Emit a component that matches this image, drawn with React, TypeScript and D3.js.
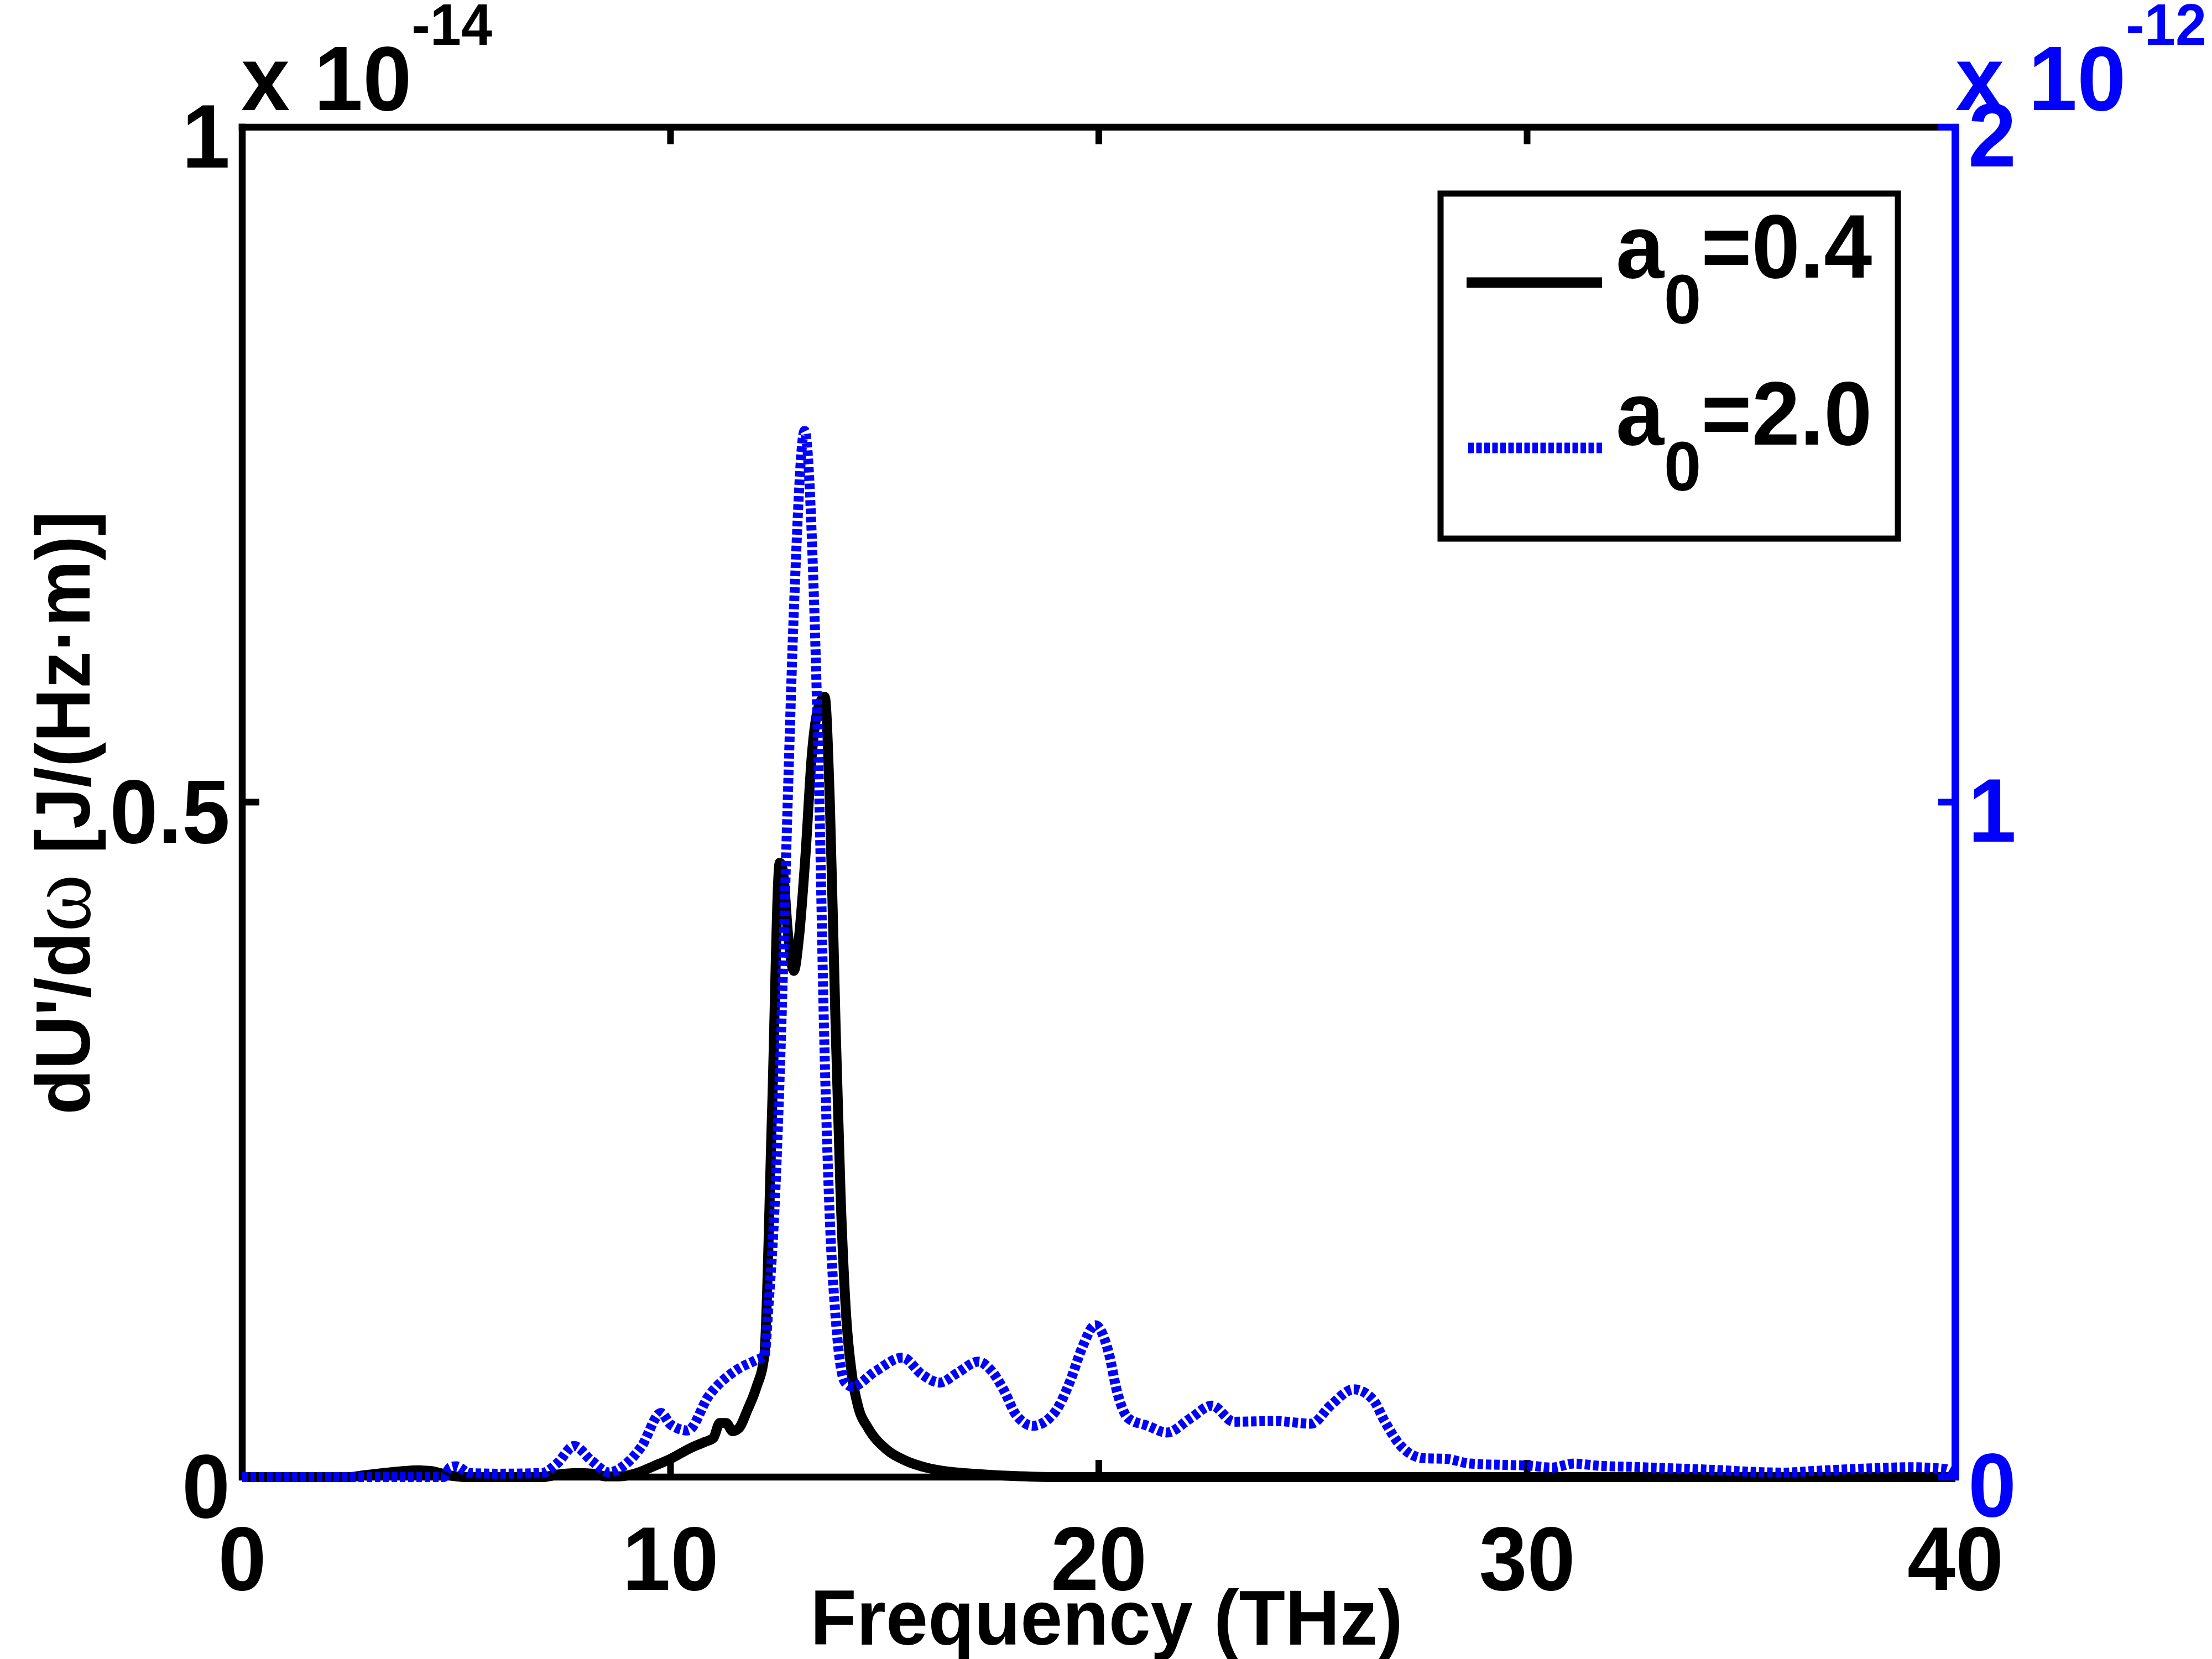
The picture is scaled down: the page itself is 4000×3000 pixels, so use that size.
import React from "react";
import * as d3 from "d3";

// a0 = 0.4 (left axis, x 1e-14)
const freqBlack = [0, 2.5, 2.8, 3.3, 3.8, 4.1, 4.4, 4.8, 5.2, 7.0, 7.4, 7.8, 8.2, 8.5, 8.8, 9.26, 9.6, 10.0, 10.5, 10.8, 11.0, 11.15, 11.3, 11.45, 11.59, 11.8, 12.0, 12.19, 12.37, 12.55, 12.62, 12.75, 12.88, 13.0, 13.15, 13.3, 13.45, 13.6, 13.72, 13.85, 13.97, 14.1, 14.24, 14.4, 14.6, 15.06, 15.5, 15.97, 16.5, 17.3, 18.0, 19.0, 40];
const valBlack = [0, 0, 0.0012, 0.003, 0.0045, 0.005, 0.0045, 0.0015, 0, 0, 0.002, 0.003, 0.0025, 0.0005, 0.0005, 0.0035, 0.008, 0.0135, 0.022, 0.026, 0.029, 0.04, 0.04, 0.034, 0.036, 0.05, 0.066, 0.09, 0.27, 0.455, 0.45, 0.4, 0.375, 0.4, 0.46, 0.535, 0.57, 0.578, 0.5, 0.34, 0.21, 0.12, 0.075, 0.05, 0.037, 0.02, 0.012, 0.007, 0.004, 0.002, 0.0008, 0, 0];

// a0 = 2.0 (right axis, x 1e-12)
const freqBlue = [0, 4.7, 4.85, 5.0, 5.3, 6.0, 7.0, 7.35, 7.75, 8.16, 8.56, 8.97, 9.32, 9.78, 10.0, 10.4, 10.9, 11.5, 11.99, 12.19, 12.29, 12.44, 12.59, 12.73, 12.89, 13.13, 13.35, 13.48, 13.58, 13.7, 13.87, 14.07, 14.24, 14.79, 15.42, 15.87, 16.29, 16.69, 17.19, 17.5, 17.79, 18.06, 18.46, 18.96, 19.33, 19.6, 19.92, 20.24, 20.42, 20.69, 21.14, 21.59, 22.14, 22.64, 23.15, 24.14, 24.96, 25.41, 25.95, 26.4, 26.68, 27.04, 27.58, 28.1, 28.67, 29.44, 30.05, 30.57, 31.1, 31.62, 32.49, 34.22, 35.95, 36.82, 37.67, 38.98, 39.76, 40];
const valBlue = [0, 0, 0.014, 0.016, 0.006, 0.005, 0.006, 0.02, 0.046, 0.024, 0.007, 0.02, 0.045, 0.095, 0.078, 0.069, 0.121, 0.157, 0.173, 0.179, 0.256, 0.414, 0.674, 0.988, 1.3, 1.55, 1.3, 0.988, 0.674, 0.414, 0.225, 0.141, 0.134, 0.157, 0.177, 0.152, 0.14, 0.154, 0.171, 0.157, 0.128, 0.093, 0.076, 0.095, 0.142, 0.19, 0.225, 0.182, 0.128, 0.087, 0.076, 0.066, 0.087, 0.106, 0.082, 0.083, 0.079, 0.106, 0.13, 0.115, 0.082, 0.047, 0.028, 0.027, 0.02, 0.018, 0.017, 0.014, 0.02, 0.017, 0.015, 0.011, 0.0066, 0.0095, 0.012, 0.0145, 0.012, 0.003];

const xTicks = [0, 10, 20, 30, 40];
const xTickLabels = ["0", "10", "20", "30", "40"];
const leftTicks = [0, 0.5, 1];
const leftTickLabels = ["0", "0.5", "1"];
const rightTicks = [0, 1, 2];
const rightTickLabels = ["0", "1", "2"];
const legendLabels = ["0.4", "2.0"];

const W = 4000, H = 3000;
const L = 438, R = 3536, TOP = 230, BOT = 2671;
const FONT = "'Liberation Sans', Arial, Helvetica, sans-serif";
const BLUE = "#0000FF";

function T(props: any) {
  const { x, y, fs, sx = 0.96, anchor = "start", fill = "#000", rotate, children } = props;
  const tr = `translate(${x},${y})${rotate !== undefined ? ` rotate(${rotate})` : ""} scale(${sx},1)`;
  return (
    <text transform={tr} fontSize={fs} textAnchor={anchor} fill={fill} fontWeight="bold" fontFamily={FONT}>
      {children}
    </text>
  );
}

export default function App() {
  const x = d3.scaleLinear().domain([0, 40]).range([L, R]);
  const yL = d3.scaleLinear().domain([0, 1]).range([BOT, TOP]);
  const yR = d3.scaleLinear().domain([0, 2]).range([BOT, TOP]);

  const blackPts: [number, number][] = freqBlack.map((f, i) => [f, valBlack[i]]);
  const bluePts: [number, number][] = freqBlue.map((f, i) => [f, valBlue[i]]);
  const lineL = d3.line<[number, number]>().x(d => x(d[0])).y(d => yL(d[1])).curve(d3.curveMonotoneX);
  const lineR = d3.line<[number, number]>().x(d => x(d[0])).y(d => yR(d[1])).curve(d3.curveMonotoneX);

  const tickLen = 31;
  const axW = 12.5;

  return (
    <svg width={W} height={H} viewBox={`0 0 ${W} ${H}`} style={{ position: "absolute", left: 0, top: 0, background: "#fff" }}>
      <rect x={0} y={0} width={W} height={H} fill="#fff" />
      {/* axes box (black) */}
      <path d={`M${L},${TOP}L${R},${TOP}`} stroke="#000" strokeWidth={axW} strokeLinecap="square" fill="none" />
      <path d={`M${L},${TOP}L${L},${BOT}L${R},${BOT}`} stroke="#000" strokeWidth={axW} strokeLinecap="square" fill="none" />
      {/* x ticks */}
      {xTicks.map(t => (
        <g key={"xt" + t}>
          <line x1={x(t)} x2={x(t)} y1={BOT} y2={BOT - tickLen} stroke="#000" strokeWidth={12} />
          <line x1={x(t)} x2={x(t)} y1={TOP} y2={TOP + tickLen} stroke="#000" strokeWidth={12} />
        </g>
      ))}
      {/* left ticks */}
      {leftTicks.map(t => (
        <line key={"lt" + t} x1={L} x2={L + tickLen} y1={yL(t)} y2={yL(t)} stroke="#000" strokeWidth={12} />
      ))}
      {/* data lines */}
      <path d={lineL(blackPts) || ""} stroke="#000" strokeWidth={18} fill="none" strokeLinejoin="miter" strokeMiterlimit={3} />
      <path d={lineR(bluePts) || ""} stroke={BLUE} strokeWidth={18} fill="none" strokeDasharray="10 5" />
      {/* right axis (blue) */}
      <line x1={R} x2={R} y1={TOP - 6} y2={BOT + 6} stroke={BLUE} strokeWidth={14} />
      {rightTicks.map(t => (
        <line key={"rt" + t} x1={R} x2={R - tickLen} y1={yR(t)} y2={yR(t)} stroke={BLUE} strokeWidth={12} />
      ))}
      {/* tick labels */}
      {xTicks.map((t, i) => (
        <T key={"xl" + t} x={x(t)} y={2875} fs={163} anchor="middle">{xTickLabels[i]}</T>
      ))}
      {leftTicks.map((t, i) => (
        <T key={"ll" + t} x={416} y={yL(t) + 73} fs={163} anchor="end">{leftTickLabels[i]}</T>
      ))}
      {rightTicks.map((t, i) => (
        <T key={"rl" + t} x={3559} y={yR(t) + 71} fs={163} fill={BLUE}>{rightTickLabels[i]}</T>
      ))}
      {/* exponent labels */}
      <T x={436} y={199} fs={165}>
        x 10<tspan dy={-118} fontSize={105}>-14</tspan>
      </T>
      <T x={3536} y={199} fs={165} fill={BLUE}>
        x 10<tspan dy={-118} fontSize={105}>-12</tspan>
      </T>
      {/* axis labels */}
      <T x={2001} y={2974} fs={141} sx={0.97} anchor="middle">Frequency (THz)</T>
      <T x={162} y={1470} fs={140} sx={0.96} anchor="middle" rotate={-90}>
        dU'/d<tspan fontFamily="'Liberation Serif', 'Times New Roman', serif" fontWeight="normal" fontSize={165}>ω</tspan> [J/(Hz·m)]
      </T>
      {/* legend */}
      <rect x={2605} y={350} width={827} height={624} fill="#fff" stroke="#000" strokeWidth={11} />
      <line x1={2652} x2={2897} y1={511} y2={511} stroke="#000" strokeWidth={19} />
      <line x1={2655} x2={2897} y1={810} y2={810} stroke={BLUE} strokeWidth={19} strokeDasharray="10 4.5" />
      {[502, 804].map((by, i) => (
        <T key={"lg" + i} x={2922} y={by} fs={163}>
          a<tspan dy={83} fontSize={126}>0</tspan><tspan dy={-83}>={legendLabels[i]}</tspan>
        </T>
      ))}
    </svg>
  );
}
